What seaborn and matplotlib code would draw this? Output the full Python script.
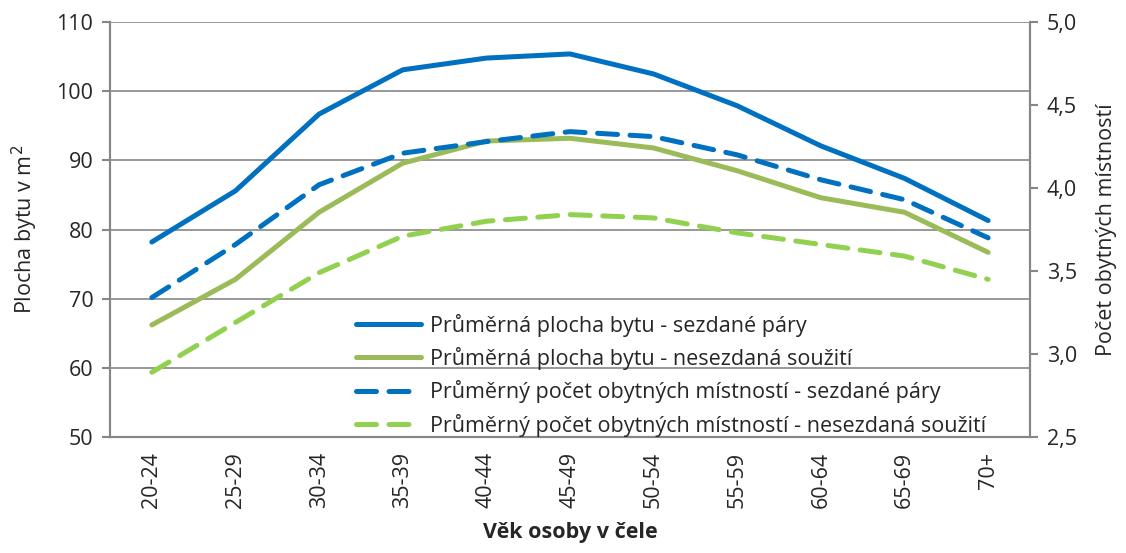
import matplotlib
matplotlib.use("Agg")
import matplotlib.pyplot as plt
import matplotlib.ticker as mticker
import seaborn as sns
import pandas as pd

# age groups of the household head
vek = ["20-24", "25-29", "30-34", "35-39", "40-44", "45-49",
       "50-54", "55-59", "60-64", "65-69", "70+"]

# average flat area (m2), left axis
plocha_sezdane = [78.2, 85.6, 96.7, 103.1, 104.8, 105.4, 102.5, 97.9, 92.1, 87.4, 81.3]
plocha_nesezdane = [66.2, 72.8, 82.5, 89.6, 92.8, 93.2, 91.8, 88.5, 84.6, 82.5, 76.7]

# average number of rooms, right axis
mistnosti_sezdane = [3.34, 3.66, 4.02, 4.21, 4.28, 4.34, 4.31, 4.20, 4.05, 3.93, 3.70]
mistnosti_nesezdane = [2.89, 3.19, 3.49, 3.71, 3.80, 3.84, 3.82, 3.73, 3.66, 3.59, 3.45]

labels = [
    "Průměrná plocha bytu - sezdané páry",
    "Průměrná plocha bytu - nesezdaná soužití",
    "Průměrný počet obytných místností - sezdané páry",
    "Průměrný počet obytných místností - nesezdaná soužití",
]

blue = "#0070C0"
green = "#9BBB59"
light_green = "#92D050"
gray = "#868686"
fs = 15.5

sns.set_style("white")
plt.rcParams["font.family"] = ["Open Sans", "DejaVu Sans"]

df = pd.DataFrame({
    "x": range(len(vek)),
    "ps": plocha_sezdane,
    "pn": plocha_nesezdane,
    "ms": mistnosti_sezdane,
    "mn": mistnosti_nesezdane,
})

fig = plt.figure(figsize=(11.26, 5.53), dpi=100)
ax = fig.add_axes([0.0977, 0.2098, 0.817, 0.7502])
ax2 = ax.twinx()

sns.lineplot(data=df, x="x", y="ps", ax=ax, color=blue, lw=3.6, label=labels[0], legend=False)
sns.lineplot(data=df, x="x", y="pn", ax=ax, color=green, lw=3.6, label=labels[1], legend=False)
sns.lineplot(data=df, x="x", y="ms", ax=ax2, color=blue, lw=3.6, label=labels[2], legend=False)
sns.lineplot(data=df, x="x", y="mn", ax=ax2, color=light_green, lw=3.6, label=labels[3], legend=False)
ax2.lines[0].set_dashes([4, 2.5])
ax2.lines[1].set_dashes([4, 2.5])
for ln in ax.lines + ax2.lines:
    ln.set_solid_capstyle("round")
    ln.set_dash_capstyle("round")

ax.set_xlim(-0.5, len(vek) - 0.5)
ax.set_ylim(50, 110)
ax2.set_ylim(2.5, 5.0)
ax.set_yticks(range(50, 111, 10))
ax2.set_yticks([2.5, 3.0, 3.5, 4.0, 4.5, 5.0])
ax2.yaxis.set_major_formatter(mticker.FuncFormatter(lambda v, p: f"{v:.1f}".replace(".", ",")))

ax.set_xticks(range(len(vek)))
ax.set_xticklabels(vek, rotation=90)
ax.set_xticks([i - 0.5 for i in range(len(vek) + 1)], minor=True)
ax.tick_params(axis="x", which="major", length=0, pad=11, labelsize=fs)
ax.tick_params(axis="x", which="minor", length=6, width=1.5, color=gray, direction="out")
ax.tick_params(axis="y", length=6, width=1.5, color=gray, direction="out", labelsize=fs, pad=6)
ax2.tick_params(axis="y", length=6, width=1.5, color=gray, direction="out", labelsize=fs, pad=6)

ax.grid(axis="y", color=gray, lw=1.2)
ax.set_axisbelow(True)
for a in (ax, ax2):
    a.spines["top"].set_visible(False)
    for s in ("left", "right", "bottom"):
        a.spines[s].set_color(gray)
        a.spines[s].set_linewidth(1.5)

ax.set_xlabel("Věk osoby v čele", fontsize=fs, fontweight="bold", labelpad=10)
ax.set_ylabel("Plocha bytu v m$^2$", fontsize=fs, labelpad=12)
ax2.set_ylabel("Počet obytných místností", fontsize=fs, labelpad=14)
ax2.set_xlabel("")

handles = ax.lines + ax2.lines
ax2.legend(handles, labels, loc="lower left", bbox_to_anchor=(0.258, -0.02),
           frameon=False, fontsize=fs, handlelength=3.0, handletextpad=0.45,
           labelspacing=0.48, borderaxespad=0)

fig.savefig("out.png", dpi=100)
